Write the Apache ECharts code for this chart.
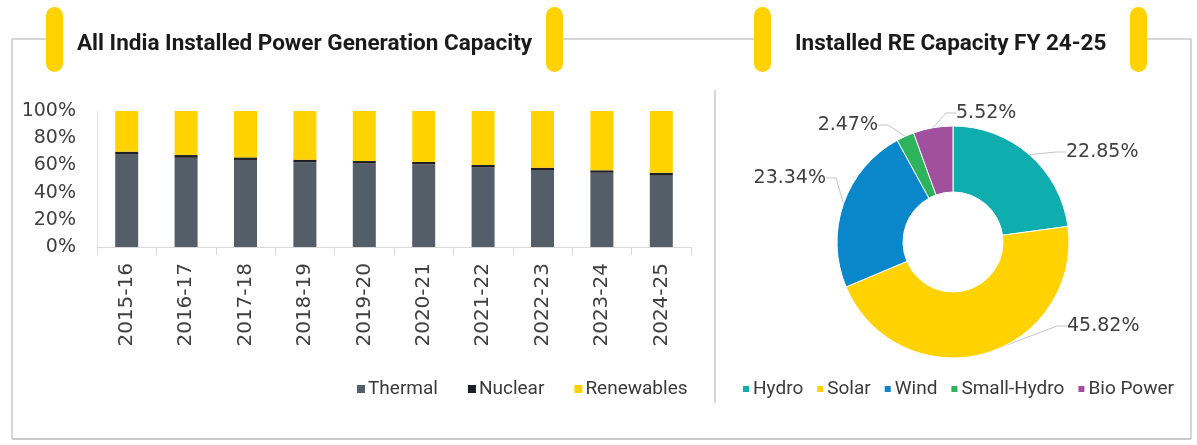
<!DOCTYPE html>
<html>
<head>
<meta charset="utf-8">
<script src="https://cdn.jsdelivr.net/npm/echarts@6.0.0/dist/echarts.min.js"></script>
<style>
  html, body { margin: 0; padding: 0; background: #fff; }
  #main { width: 1197px; height: 445px; }
</style>
</head>
<body>
<div id="main"></div>
<script>
// bar chart data (share of installed capacity, %)
const years = ["2015-16", "2016-17", "2017-18", "2018-19", "2019-20", "2020-21", "2021-22", "2022-23", "2023-24", "2024-25"];
const thermal = [68.0, 65.6, 64.0, 62.3, 61.4, 60.7, 58.6, 56.6, 54.6, 52.9];
const nuclear = [2.1, 2.0, 1.9, 1.9, 1.8, 1.8, 1.7, 1.7, 1.8, 1.7];
const renewables = [29.9, 32.4, 34.1, 35.8, 36.8, 37.5, 39.7, 41.7, 43.6, 45.4];
const yTicks = [0, 20, 40, 60, 80, 100];

// donut data (RE capacity FY 24-25, %)
const reNames = ["Hydro", "Solar", "Wind", "Small-Hydro", "Bio Power"];
const reShare = [22.85, 45.82, 23.34, 2.47, 5.52];

const YELLOW = "#FFD200";
const BORDER = "#c9c9c9";
const reColors = ["#0FADAE", YELLOW, "#0A87CB", "#2DB35B", "#A1509E"];

// where the donut labels sit (x, y, align)
const pieLabelPos = [
  [1066, 152, "left"],
  [1067, 326, "left"],
  [826, 178, "right"],
  [878, 125, "right"],
  [956, 113, "left"]
];

const chart = echarts.init(document.getElementById("main"), null, { renderer: "canvas" });

const pill = (x) => ({
  type: "rect",
  shape: { x: x, y: 7, width: 17, height: 65, r: 8.5 },
  style: { fill: YELLOW },
  z: 10
});
const seg = (x1, y1, x2, y2, w) => ({
  type: "line",
  shape: { x1: x1, y1: y1, x2: x2, y2: y2 },
  style: { stroke: BORDER, lineWidth: w || 1.5 },
  z: 1
});
const titleStyle = { fontFamily: "Roboto", fontWeight: "bold", fontSize: 22.5, color: "#1a1a1a", lineHeight: 24 };
const legendText = { fontFamily: "Roboto", fontSize: 19, color: "#3a3a3a", lineHeight: 20, padding: [0, 0, 0, -2] };

chart.setOption({
  animation: false,
  textStyle: { fontFamily: "DejaVu Sans" },
  title: [
    { text: "All India Installed Power Generation Capacity", left: 77, top: 32, padding: 0, textStyle: titleStyle },
    { text: "Installed RE Capacity FY 24-25", left: 795, top: 32, padding: 0, textStyle: titleStyle }
  ],
  graphic: [
    seg(12, 39, 47, 39),
    seg(562, 39, 755, 39),
    seg(1146, 39, 1191, 39),
    seg(12, 39, 12, 439),
    seg(1191, 39, 1191, 439),
    seg(12, 439, 1191, 439, 2),
    seg(715, 90, 715, 403),
    pill(46), pill(546), pill(754), pill(1130)
  ],
  legend: [
    {
      data: ["Thermal", "Nuclear", "Renewables"],
      left: 352, top: 374,
      icon: "rect", itemWidth: 8, itemHeight: 8, itemGap: 30,
      textStyle: legendText
    },
    {
      data: reNames,
      left: 736, top: 374,
      icon: "rect", itemWidth: 8, itemHeight: 8, itemGap: 12,
      textStyle: legendText
    }
  ],
  grid: { left: 97, right: 506, top: 111, bottom: 198 },
  xAxis: {
    type: "category",
    data: years,
    axisLine: { lineStyle: { color: "#d9d9d9", width: 1 } },
    axisTick: { show: true, length: 8, lineStyle: { color: "#d9d9d9" } },
    axisLabel: { rotate: 90, margin: 16, fontSize: 20, color: "#404040", interval: 0 }
  },
  yAxis: {
    type: "value",
    min: yTicks[0], max: yTicks[yTicks.length - 1], interval: 20,
    axisLine: { show: true, lineStyle: { color: "#e3e3e3" } },
    axisTick: { show: false },
    splitLine: { show: false },
    axisLabel: { formatter: "{value}%", fontSize: 19, color: "#404040", margin: 21 }
  },
  series: [
    { name: "Thermal", type: "bar", stack: "cap", data: thermal, barWidth: 23, itemStyle: { color: "#535E69" } },
    { name: "Nuclear", type: "bar", stack: "cap", data: nuclear, barWidth: 23, itemStyle: { color: "#1E1E26" } },
    { name: "Renewables", type: "bar", stack: "cap", data: renewables, barWidth: 23, itemStyle: { color: YELLOW } },
    {
      name: "RE Capacity",
      type: "pie",
      center: [953, 242],
      radius: [50, 116],
      startAngle: 90,
      clockwise: true,
      data: reNames.map((n, i) => ({ name: n, value: reShare[i], itemStyle: { color: reColors[i] } })),
      itemStyle: { borderColor: "#fff", borderWidth: 1 },
      label: {
        show: true,
        formatter: (p) => p.value.toFixed(2) + "%",
        fontSize: 19,
        color: "#404040"
      },
      labelLine: { show: true, length: 10, length2: 10, smooth: false, lineStyle: { color: "#c4c4c4", width: 1 } },
      labelLayout: (params) => {
        const p = pieLabelPos[params.dataIndex];
        return { x: p[0], y: p[1], align: p[2], verticalAlign: "middle" };
      }
    }
  ]
});
</script>
</body>
</html>
